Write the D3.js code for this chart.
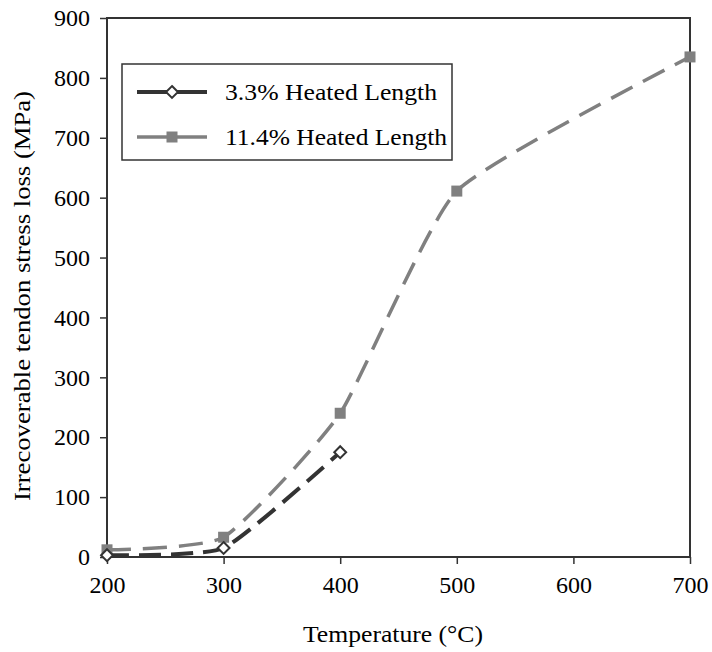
<html>
<head>
<meta charset="UTF-8">
<script src="https://d3js.org/d3.v7.min.js"></script>
<style>
  body { margin: 0; background: #fff; }
  text { font-family: "Liberation Serif", "Times New Roman", serif; fill: #000; }
</style>
</head>
<body>
<svg id="chart" width="712" height="652"></svg>
<script>
// data
var xTicks = [200, 300, 400, 500, 600, 700];
var yTicks = [0, 100, 200, 300, 400, 500, 600, 700, 800, 900];
var s33 = [[200, 3], [300, 15], [400, 175]];
var s114 = [[200, 12], [300, 33], [400, 240], [500, 611], [700, 835]];
var names = ["3.3% Heated Length", "11.4% Heated Length"];

var svg = d3.select("#chart");
var pL = 107, pR = 690, pT = 18, pB = 557;

var x = d3.scaleLinear().domain([200, 700]).range([pL, pR]);
var y = d3.scaleLinear().domain([0, 900]).range([pB, pT]);

// frame
svg.append("rect")
  .attr("x", pL).attr("y", pT)
  .attr("width", pR - pL).attr("height", pB - pT)
  .attr("fill", "none").attr("stroke", "#333").attr("stroke-width", 2);

// axes
var xAxis = svg.append("g").attr("transform", "translate(0," + pB + ")")
  .call(d3.axisBottom(x).tickValues(xTicks).tickSize(7).tickPadding(12));
var yAxis = svg.append("g").attr("transform", "translate(" + pL + ",0)")
  .call(d3.axisLeft(y).tickValues(yTicks).tickSize(7).tickPadding(10));
[xAxis, yAxis].forEach(function(g) {
  g.select(".domain").remove();
  g.selectAll("line").attr("stroke", "#333").attr("stroke-width", 1.5);
  g.selectAll("text").style("font-family", "'Liberation Serif', serif").style("font-size", "24px").attr("fill", "#000");
});

svg.append("text").attr("x", 393).attr("y", 642)
  .attr("text-anchor", "middle").style("font-size", "24px")
  .attr("textLength", 180).attr("lengthAdjust", "spacingAndGlyphs")
  .text("Temperature (°C)");
svg.append("text").attr("transform", "translate(30,296) rotate(-90)")
  .attr("text-anchor", "middle").style("font-size", "24px")
  .attr("textLength", 410).attr("lengthAdjust", "spacingAndGlyphs")
  .text("Irrecoverable tendon stress loss (MPa)");

// smoothed line, like the spreadsheet's
var line = d3.line().x(function(d) { return x(d[0]); }).y(function(d) { return y(d[1]); })
  .curve(d3.curveCardinal.tension(0.5));

// 11.4% series
svg.append("path").datum(s114).attr("d", line)
  .attr("fill", "none").attr("stroke", "#808080").attr("stroke-width", 3.5)
  .attr("stroke-dasharray", "24,12");
svg.selectAll(".sq").data(s114).enter().append("rect")
  .attr("x", function(d) { return x(d[0]) - 5.5; }).attr("y", function(d) { return y(d[1]) - 5.5; })
  .attr("width", 11).attr("height", 11).attr("fill", "#808080");

// 3.3% series
svg.append("path").datum(s33).attr("d", line)
  .attr("fill", "none").attr("stroke", "#333").attr("stroke-width", 4)
  .attr("stroke-dasharray", "22,10");
var diamond = d3.symbol().type(d3.symbolDiamond2).size(90);
svg.selectAll(".dm").data(s33).enter().append("path")
  .attr("d", diamond)
  .attr("transform", function(d) { return "translate(" + x(d[0]) + "," + y(d[1]) + ")"; })
  .attr("fill", "#fff").attr("stroke", "#333").attr("stroke-width", 2);

// legend
var lg = svg.append("g");
lg.append("rect").attr("x", 122).attr("y", 64).attr("width", 330).attr("height", 96)
  .attr("fill", "#fff").attr("stroke", "#333").attr("stroke-width", 1.5);
var rows = [92, 137];
lg.append("line").attr("x1", 137).attr("x2", 207).attr("y1", rows[0]).attr("y2", rows[0])
  .attr("stroke", "#333").attr("stroke-width", 4);
lg.append("path").attr("d", diamond).attr("transform", "translate(172," + rows[0] + ")")
  .attr("fill", "#fff").attr("stroke", "#333").attr("stroke-width", 2);
lg.append("line").attr("x1", 137).attr("x2", 207).attr("y1", rows[1]).attr("y2", rows[1])
  .attr("stroke", "#808080").attr("stroke-width", 3.5);
lg.append("rect").attr("x", 166.5).attr("y", rows[1] - 5.5).attr("width", 11).attr("height", 11)
  .attr("fill", "#808080");
var lens = [212, 222];
names.forEach(function(n, i) {
  lg.append("text").attr("x", 225).attr("y", rows[i] + 8)
    .style("font-size", "23px")
    .attr("textLength", lens[i]).attr("lengthAdjust", "spacingAndGlyphs")
    .text(n);
});
</script>
</body>
</html>
